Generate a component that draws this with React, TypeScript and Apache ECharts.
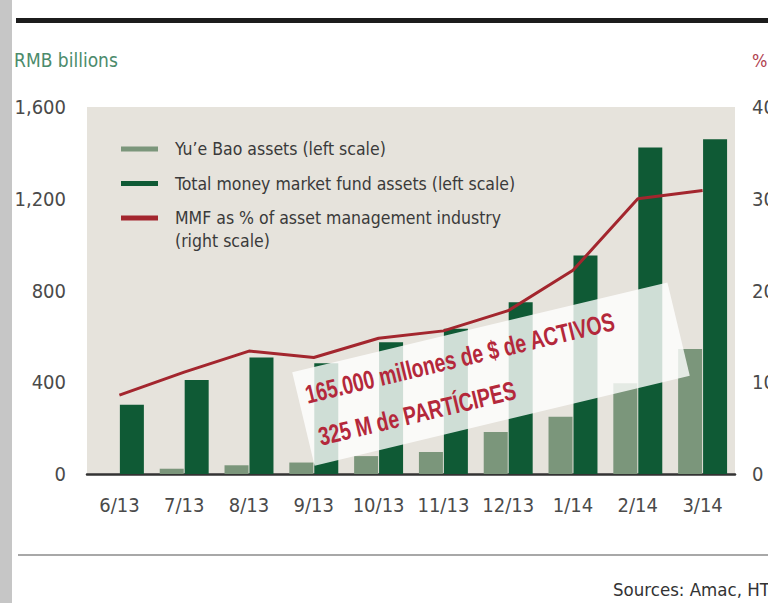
import React, { useEffect, useRef } from "react";
import * as echarts from "echarts";

const categories = ["6/13", "7/13", "8/13", "9/13", "10/13", "11/13", "12/13", "1/14", "2/14", "3/14"];
const yueBaoAssets = [0, 23, 38, 50, 78, 96, 183, 250, 396, 545];
const totalMmfAssets = [302, 410, 508, 483, 574, 633, 749, 953, 1423, 1459];
const mmfSharePct = [8.6, 11.1, 13.4, 12.7, 14.8, 15.6, 17.8, 22.2, 30.0, 30.9];

const leftTicks = { min: 0, max: 1600, interval: 400 };
const rightTicks = { min: 0, max: 40, interval: 10 };

const seriesNames = [
  "Yu\u2019e Bao assets (left scale)",
  "Total money market fund assets (left scale)",
  "MMF as % of asset management industry",
];

const FONT = '"DejaVu Sans Condensed", "DejaVu Sans", Roboto, sans-serif';

export default function App() {
  const ref = useRef<HTMLDivElement>(null);
  useEffect(() => {
    document.body.style.margin = "0";
    const chart = echarts.init(ref.current!, null, { renderer: "svg" });
    const rot = (13.5 * Math.PI) / 180;
    chart.setOption({
      animation: false,
      backgroundColor: "#ffffff",
      grid: {
        left: 87,
        right: 33,
        top: 107,
        bottom: 129,
        containLabel: false,
        outerBoundsMode: "none",
        show: true,
        backgroundColor: "#e6e3dc",
        borderWidth: 0,
      },
      legend: {
        orient: "vertical",
        left: 116,
        top: 135,
        itemWidth: 37,
        itemHeight: 5,
        itemGap: 16.5,
        icon: "rect",
        selectedMode: false,
        textStyle: {
          fontFamily: FONT,
          fontSize: 17.5,
          color: "#3a3a3a",
          lineHeight: 18,
          padding: [0, 0, 0, 12],
        },
        data: seriesNames,
      },
      xAxis: {
        type: "category",
        data: categories,
        axisLine: { lineStyle: { color: "#333333", width: 2.5 } },
        axisTick: { show: false },
        axisLabel: { interval: 0, margin: 21, fontFamily: FONT, fontSize: 20, color: "#4a4a4a" },
      },
      yAxis: [
        {
          type: "value",
          ...leftTicks,
          splitLine: { show: false },
          axisLine: { show: false },
          axisTick: { show: false },
          axisLabel: {
            margin: 21,
            fontFamily: FONT,
            fontSize: 20,
            color: "#4a4a4a",
            formatter: (v: number) => v.toLocaleString("en-US"),
          },
        },
        {
          type: "value",
          position: "right",
          ...rightTicks,
          splitLine: { show: false },
          axisLine: { show: false },
          axisTick: { show: false },
          axisLabel: { margin: 17, fontFamily: FONT, fontSize: 20, color: "#4a4a4a" },
        },
      ],
      series: [
        {
          name: seriesNames[0],
          type: "bar",
          yAxisIndex: 0,
          barWidth: 24,
          barGap: "4%",
          color: "#7b967b",
          data: yueBaoAssets,
        },
        {
          name: seriesNames[1],
          type: "bar",
          yAxisIndex: 0,
          barWidth: 24,
          barGap: "4%",
          color: "#0f5a35",
          data: totalMmfAssets,
        },
        {
          name: seriesNames[2],
          type: "line",
          yAxisIndex: 1,
          color: "#a3262e",
          symbol: "none",
          lineStyle: { width: 3, color: "#a3262e" },
          data: mmfSharePct,
          z: 3,
        },
      ],
      graphic: [
        { type: "rect", shape: { x: 0, y: 0, width: 12, height: 603 }, style: { fill: "#c6c6c6" } },
        { type: "rect", shape: { x: 16, y: 18, width: 752, height: 5 }, style: { fill: "#1c1c1c" } },
        { type: "rect", shape: { x: 18, y: 554, width: 750, height: 2 }, style: { fill: "#a8a8a8" } },
        {
          type: "text",
          x: 14,
          y: 60,
          style: { text: "RMB billions", fontFamily: FONT, fontSize: 19, fill: "#4b8b6b", verticalAlign: "middle" },
        },
        {
          type: "text",
          x: 752,
          y: 60,
          style: { text: "%", fontFamily: FONT, fontSize: 18, fill: "#b0424f", verticalAlign: "middle" },
        },
        {
          type: "text",
          x: 175,
          y: 241,
          style: { text: "(right scale)", fontFamily: FONT, fontSize: 17.5, fill: "#3a3a3a", verticalAlign: "middle" },
        },
        {
          type: "text",
          x: 613,
          y: 589,
          style: { text: "Sources: Amac, HT", fontFamily: FONT, fontSize: 18.5, fill: "#333333", verticalAlign: "middle" },
        },
        {
          type: "group",
          x: 491,
          y: 374,
          rotation: rot,
          z: 100,
          children: [
            {
              type: "rect",
              z: 100,
              shape: { x: -193, y: -48, width: 386, height: 96 },
              style: { fill: "rgba(255,255,255,0.8)" },
            },
            {
              type: "text",
              z: 101,
              x: -185,
              y: -23,
              scaleX: 0.746,
              style: {
                text: "165.000 millones de $ de ACTIVOS",
                fontFamily: '"Liberation Sans", Arial, sans-serif',
                fontWeight: "bold",
                fontSize: 26,
                fill: "#b4283b",
                verticalAlign: "middle",
                align: "left",
              },
            },
            {
              type: "text",
              z: 101,
              x: -182,
              y: 21,
              scaleX: 0.746,
              style: {
                text: "325 M de PART\u00cdCIPES",
                fontFamily: '"Liberation Sans", Arial, sans-serif',
                fontWeight: "bold",
                fontSize: 26,
                fill: "#b4283b",
                verticalAlign: "middle",
                align: "left",
              },
            },
          ],
        },
      ],
    });
    return () => chart.dispose();
  }, []);
  return <div ref={ref} style={{ position: "fixed", left: 0, top: 0, width: 768, height: 603 }} />;
}
